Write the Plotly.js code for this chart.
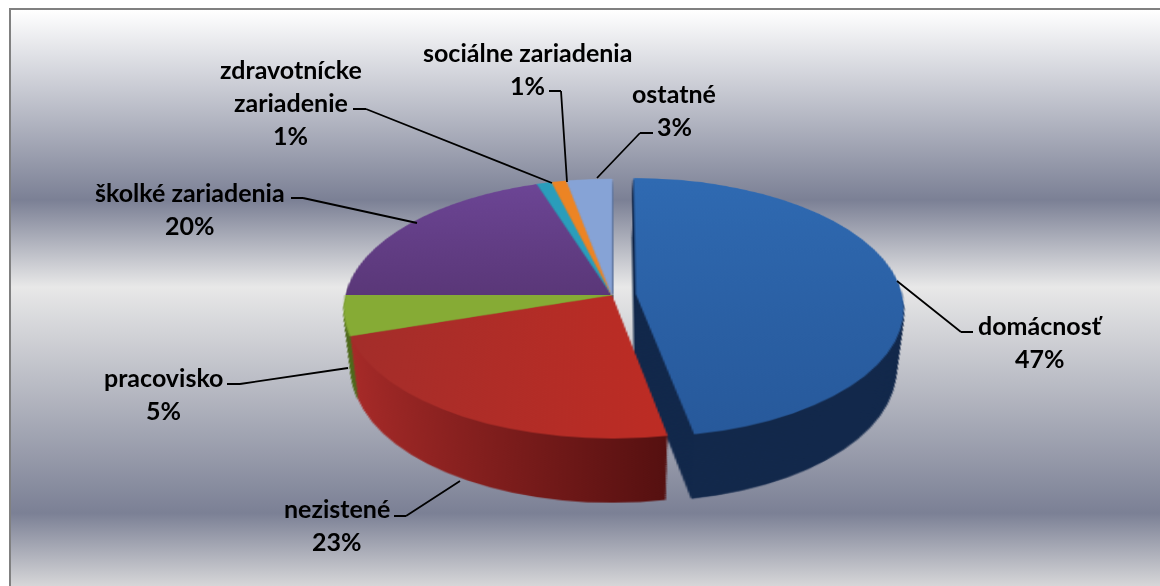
<!DOCTYPE html>
<html>
<head>
<meta charset="utf-8">
<script src="https://cdn.plot.ly/plotly-3.0.1.min.js"></script>
<style>
html,body{margin:0;padding:0;background:#fff;overflow:hidden}
#frame{position:absolute;left:9px;top:8px;width:1151px;height:578px;box-sizing:border-box;
 border-left:2px solid #808080;border-top:2px solid #808080;
 background:linear-gradient(to bottom,#ffffff 0px,#7b8095 190px,#e8e8e8 277px,#7b8095 503px,#d6d6d8 576px)}
#chart{position:absolute;left:0;top:0;width:1160px;height:586px}
/* tilts the pie layer only: annotations live in a separate top svg */
#chart .svg-container > svg:first-child{
 overflow:visible;transform-origin:612px 295px;
 transform:perspective(2205px) rotateX(61.2deg) scale(1.665)}
</style>
</head>
<body>
<div id="frame"></div>
<div id="chart"></div>
<script>
const categories=['domácnosť','nezistené','pracovisko','školké zariadenia','zdravotnícke zariadenie','sociálne zariadenia','ostatné'];
const values=[47,23,5,20,1,1,3];
const topColors=['#2c62a6','#b02f2b','#86ab35','#67408c','#2a9dbb','#ec8424','#86a3d6'];
const sideColors=['#13294b','#711616','#4f6a1c','#3a2352','#15586b','#8a4a10','#4f6284'];
const pulls=[0.09,0,0,0,0,0,0];
// faces with a shaded fill: slice index, direction, start and end colour
const faceShades=[
 {slice:0,top:true,x2:0,y2:1,from:'#2f6ab2',to:'#27599b'},
 {slice:3,top:true,x2:0,y2:1,from:'#6c4595',to:'#5a3778'},
 {slice:1,top:true,x2:1,y2:0,from:'#a32d2a',to:'#bd2c24'},
 {slice:1,top:false,x2:1,y2:0,from:'#a62a28',to:'#551010'}
];
// label lines, with their centre in page pixels
const labelLines=[['domácnosť'],['nezistené'],['pracovisko'],['školké zariadenia'],['zdravotnícke','zariadenie'],['sociálne zariadenia'],['ostatné']];
const labelCentres=[[1040,325],[337,508],[163,377],[190,192],[291,69],[527,52],[674,93]];
const leaders=[
 [[973,332],[961,332],[897,281]],
 [[394,516],[406,516],[460,481]],
 [[227,384],[240,384],[348,368]],
 [[291,198],[303,198],[417,223]],
 [[353,109],[366,109],[552,183]],
 [[549,91],[561,91],[567,182]],
 [[653,133],[640,133],[597,178]]
];
const W=1160,H=586,CX=612,CY=295,R=160,STEP=2.15,COPIES=34,SHRINK=0.075;
const maxPull=Math.max(...pulls);
function pieTrace(colors,shift,scale){
 const half=R*scale*(1+maxPull);
 return {type:'pie',values:values,labels:categories,sort:false,direction:'clockwise',rotation:0,
  pull:pulls,textinfo:'none',hoverinfo:'skip',showlegend:false,
  marker:{colors:colors,line:{color:colors,width:0.6}},
  domain:{x:[(CX-half)/W,(CX+half)/W],y:[1-(CY+half+shift)/H,1-(CY-half+shift)/H]}};
}
const traces=[];
for(let k=COPIES;k>=1;k--)traces.push(pieTrace(sideColors,k*STEP,1-SHRINK*k/COPIES));
traces.push(pieTrace(topColors,0,1));

const annotations=[];
const txt=(s,x,y)=>annotations.push({text:s,xref:'paper',yref:'paper',x:x/W,y:1-y/H,xanchor:'center',yanchor:'middle',
  showarrow:false,font:{family:'Lato, "Open Sans", sans-serif',size:25,color:'#000'}});
categories.forEach((c,i)=>{
 const lines=labelLines[i],[x,y]=labelCentres[i];
 lines.forEach((l,j)=>txt('<b>'+l+'</b>',x,y+j*33));
 txt('<b>'+values[i]+'%</b>',x,y+lines.length*33);
});
leaders.forEach(pts=>{
 for(let j=0;j<pts.length-1;j++){
  const a=pts[j],b=pts[j+1];
  annotations.push({text:'',xref:'paper',yref:'paper',x:b[0]/W,y:1-b[1]/H,ax:a[0]-b[0],ay:a[1]-b[1],
   showarrow:true,arrowhead:0,arrowwidth:1.8,arrowcolor:'#000',standoff:0,startstandoff:0,
   borderpad:0,borderwidth:0,font:{size:1}});
 }
});
Plotly.newPlot('chart',traces,{width:W,height:H,margin:{l:0,r:0,t:0,b:0,pad:0},
 paper_bgcolor:'rgba(0,0,0,0)',plot_bgcolor:'rgba(0,0,0,0)',showlegend:false,annotations:annotations},
 {displayModeBar:false,staticPlot:true}).then(gd=>{
  const svg=gd.querySelector('.svg-container > svg');
  const NS='http://www.w3.org/2000/svg';
  const defs=svg.querySelector('defs')||svg.insertBefore(document.createElementNS(NS,'defs'),svg.firstChild);
  const groups=[...svg.querySelectorAll('.pielayer .trace')];
  faceShades.forEach((f,n)=>{
   const g=document.createElementNS(NS,'linearGradient');
   g.setAttribute('id','face'+n);
   g.setAttribute('x1',0);g.setAttribute('y1',0);g.setAttribute('x2',f.x2);g.setAttribute('y2',f.y2);
   [[0,f.from],[1,f.to]].forEach(([o,c])=>{
    const s=document.createElementNS(NS,'stop');
    s.setAttribute('offset',o);s.setAttribute('stop-color',c);g.appendChild(s);
   });
   defs.appendChild(g);
   groups.forEach((t,i)=>{
    if((i===groups.length-1)!==f.top)return;
    const p=t.querySelectorAll('.slice path.surface')[f.slice];
    if(p){p.style.fill='url(#face'+n+')';p.style.stroke='none';}
   });
  });
 });
</script>
</body>
</html>
